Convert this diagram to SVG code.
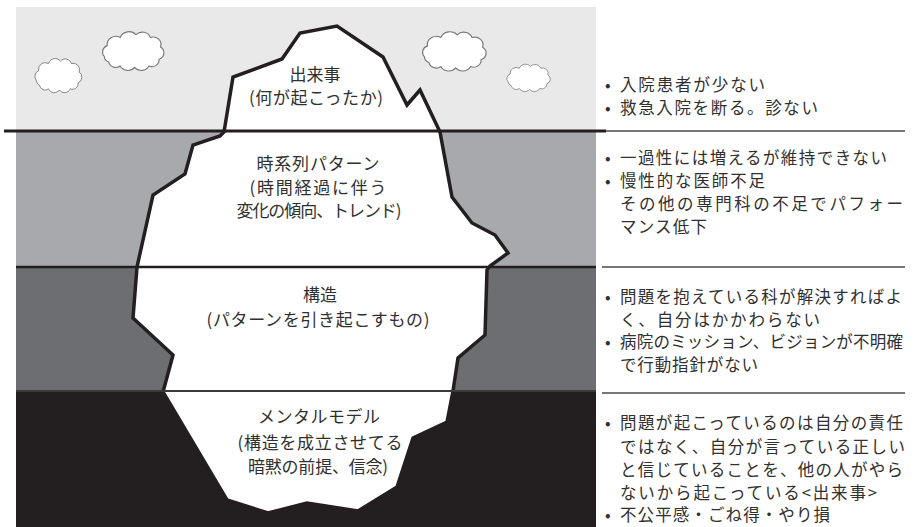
<svg xmlns="http://www.w3.org/2000/svg" width="917" height="527" viewBox="0 0 917 527">
  <style>
    text { font-family: "Noto Sans CJK JP", "Noto Sans", sans-serif; fill: #303030; }
    .lbl { font-size: 17px; text-anchor: middle; }
    .note { font-size: 16.5px; }
    .cloud { fill: #ffffff; stroke: #7a7a7a; stroke-width: 1.6; vector-effect: non-scaling-stroke; }
    .sep { stroke: #4a4a4a; stroke-width: 1.6; }
  </style>
  <defs>
    <path id="cloud" d="M12,40 a10,10 0 0 1 4,-16 a12,12 0 0 1 18,-12 a13,13 0 0 1 22,-4 a12,12 0 0 1 20,4 a11,11 0 0 1 14,14 a10,10 0 0 1 -2,18 a10,10 0 0 1 -14,10 a12,12 0 0 1 -20,2 a12,12 0 0 1 -20,-2 a10,10 0 0 1 -16,-6 a9,9 0 0 1 -6,-8 z"/>
  </defs>

  <!-- layered background: sky and three depths of water -->
  <g id="layers">
    <rect x="16" y="7" width="580" height="124" fill="#e9e9ea"/>
    <rect x="16" y="131" width="580" height="136" fill="#a8a9ac"/>
    <rect x="16" y="267" width="580" height="124" fill="#6d6e71"/>
    <rect x="16" y="391" width="580" height="136" fill="#231f20"/>
  </g>

  <!-- clouds -->
  <g id="clouds">
    <use href="#cloud" class="cloud" transform="translate(29.7,56.4) scale(0.55,0.6)"/>
    <use href="#cloud" class="cloud" transform="translate(95.7,29.3) scale(0.72,0.68)"/>
    <use href="#cloud" class="cloud" transform="translate(415.5,29.3) scale(0.745,0.69)"/>
    <use href="#cloud" class="cloud" transform="translate(502,62.5) scale(0.51,0.48)"/>
  </g>

  <!-- iceberg -->
  <g id="iceberg">
    <polygon fill="#ffffff" stroke="#231f20" stroke-width="3.5" stroke-linejoin="miter"
      points="224,132 233,77 282,59 300,33 337,26 383,57 407,105 420,90 440,132 452,197 472,223 495,235 508,253 490,266 487,270 485,335 458,358 453,391 447,422 413,438 397,487 358,511 307,503 268,513 227,500 163,392 173,355 133,318 137,267 153,195 185,174 193,145 220,136"/>
  </g>

  <!-- level boundaries and separators -->
  <g id="connectors">
    <line x1="4" y1="131" x2="606" y2="131" stroke="#231f20" stroke-width="3"/>
    <line x1="606" y1="131" x2="905" y2="131" class="sep"/>
    <line x1="16" y1="267" x2="596" y2="267" stroke="#231f20" stroke-width="2.5"/>
    <line x1="602" y1="267" x2="905" y2="267" class="sep"/>
    <line x1="16" y1="391" x2="596" y2="391" stroke="#3a3a3a" stroke-width="2"/>
    <line x1="602" y1="393" x2="905" y2="393" class="sep"/>
  </g>

  <!-- level labels -->
  <g id="events">
    <text class="lbl" x="315" y="81">出来事</text>
    <text class="lbl" x="316" y="104" textLength="134" lengthAdjust="spacing">(何が起こったか)</text>
  </g>
  <g id="patterns">
    <text class="lbl" x="318" y="170" textLength="123" lengthAdjust="spacing">時系列パターン</text>
    <text class="lbl" x="318" y="194" textLength="137" lengthAdjust="spacing">(時間経過に伴う</text>
    <text class="lbl" x="319" y="217" textLength="165" lengthAdjust="spacing">変化の傾向、トレンド)</text>
  </g>
  <g id="structure">
    <text class="lbl" x="320" y="301">構造</text>
    <text class="lbl" x="318" y="326" textLength="223" lengthAdjust="spacing">(パターンを引き起こすもの)</text>
  </g>
  <g id="mental-model">
    <text class="lbl" x="319" y="423" textLength="122" lengthAdjust="spacing">メンタルモデル</text>
    <text class="lbl" x="320" y="449" textLength="165" lengthAdjust="spacing">(構造を成立させてる</text>
    <text class="lbl" x="318" y="473" textLength="140" lengthAdjust="spacing">暗黙の前提、信念)</text>
  </g>

  <!-- observations per level -->
  <g id="notes-events">
    <text class="note" x="605" y="91">•</text>
    <text class="note" x="620" y="91" textLength="145" lengthAdjust="spacing">入院患者が少ない</text>
    <text class="note" x="605" y="114">•</text>
    <text class="note" x="620" y="114" textLength="198" lengthAdjust="spacing">救急入院を断る。診ない</text>
  </g>
  <g id="notes-patterns">
    <text class="note" x="605" y="164">•</text>
    <text class="note" x="620" y="164" textLength="267" lengthAdjust="spacing">一過性には増えるが維持できない</text>
    <text class="note" x="605" y="187">•</text>
    <text class="note" x="620" y="187" textLength="145" lengthAdjust="spacing">慢性的な医師不足</text>
    <text class="note" x="620" y="210" textLength="283" lengthAdjust="spacing">その他の専門科の不足でパフォー</text>
    <text class="note" x="620" y="233" textLength="87" lengthAdjust="spacing">マンス低下</text>
  </g>
  <g id="notes-structure">
    <text class="note" x="605" y="303">•</text>
    <text class="note" x="620" y="303" textLength="282" lengthAdjust="spacing">問題を抱えている科が解決すればよ</text>
    <text class="note" x="620" y="326" textLength="200" lengthAdjust="spacing">く、自分はかかわらない</text>
    <text class="note" x="605" y="348">•</text>
    <text class="note" x="620" y="348" textLength="283" lengthAdjust="spacing">病院のミッション、ビジョンが不明確</text>
    <text class="note" x="620" y="371" textLength="138" lengthAdjust="spacing">で行動指針がない</text>
  </g>
  <g id="notes-mental-model">
    <text class="note" x="605" y="429">•</text>
    <text class="note" x="620" y="429" textLength="283" lengthAdjust="spacing">問題が起こっているのは自分の責任</text>
    <text class="note" x="620" y="453" textLength="285" lengthAdjust="spacing">ではなく、自分が言っている正しい</text>
    <text class="note" x="620" y="476" textLength="283" lengthAdjust="spacing">と信じていることを、他の人がやら</text>
    <text class="note" x="620" y="499" textLength="257" lengthAdjust="spacing">ないから起こっている&lt;出来事&gt;</text>
    <text class="note" x="605" y="521">•</text>
    <text class="note" x="620" y="521" textLength="210" lengthAdjust="spacing">不公平感・ごね得・やり損</text>
  </g>
</svg>
